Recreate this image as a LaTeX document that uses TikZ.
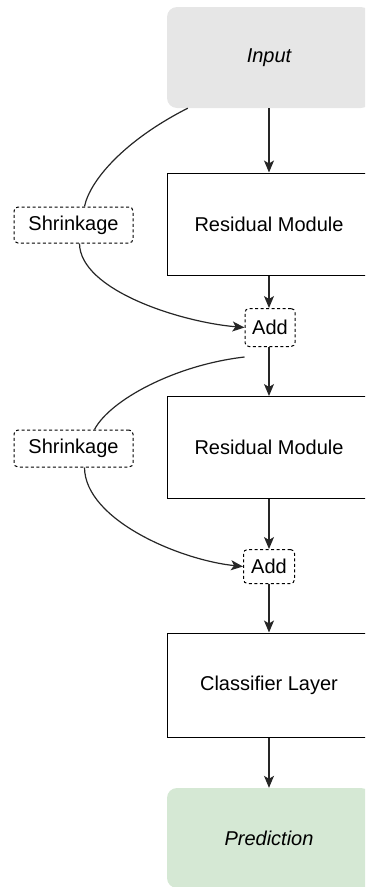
\documentclass[tikz,border=0pt]{standalone}
\usepackage{fontspec}
\setmainfont{Liberation Sans}
\usetikzlibrary{arrows.meta,calc}
\definecolor{ingray}{HTML}{E6E6E6}
\definecolor{outgreen}{HTML}{D5E8D4}
\begin{document}
\begin{tikzpicture}[x=1pt,y=-1pt,
  every node/.style={font=\fontsize{20}{23}\selectfont, inner sep=0pt},
  blk/.style={draw=black, line width=1pt, minimum width=204pt, minimum height=102pt},
  term/.style={rounded corners=10pt, minimum width=204pt, minimum height=101pt, font=\fontsize{20}{23}\selectfont\itshape},
  dbox/.style={draw=black, line width=1pt, dash pattern=on 3pt off 2.5pt, rounded corners=4pt},
  link/.style={draw=black!85, line width=1.2pt, -{Stealth[length=12pt,width=10pt,inset=3pt]}},
  curve/.style={draw=black!85, line width=1.2pt}
]
\useasboundingbox (0,0) rectangle (365,887);
\clip (0,0) rectangle (365,887);

% main column
\node[term, fill=ingray] (inp) at (269,57.5) {Input};
\node[blk] (rm1) at (269,224) {Residual Module};
\node[dbox, minimum width=50pt, minimum height=38pt] (add1) at (270,327.5) {Add};
\node[blk] (rm2) at (269,447.5) {Residual Module};
\node[dbox, minimum width=51pt, minimum height=34pt] (add2) at (269,566.5) {Add};
\node[blk, minimum height=104pt] (cls) at (269,685) {Classifier Layer};
\node[term, fill=outgreen, minimum height=100pt] (pred) at (269,838) {Prediction};

% shrinkage branches
\node[dbox, minimum width=119pt, minimum height=36pt] (sh1) at (73.5,225) {Shrinkage};
\node[dbox, minimum width=119pt, minimum height=37pt] (sh2) at (73.5,448.5) {Shrinkage};

% straight flow
\draw[link] (inp.south -| rm1.north) -- (rm1.north);
\draw[link] (rm1.south) -- (add1.north -| rm1.south);
\draw[link] (add1.south -| rm2.north) -- (rm2.north);
\draw[link] (rm2.south) -- (add2.north -| rm2.south);
\draw[link] (add2.south) -- (add2.south |- cls.north);
\draw[link] (cls.south) -- (pred.north);

% skip paths through the shrinkage blocks
\draw[curve] ([xshift=21pt]inp.south west) .. controls (125,140) and (90,180) .. ([xshift=11pt]sh1.north);
\draw[link] ([xshift=6pt]sh1.south) .. controls (80,290) and (180,322) .. (add1.west);
\draw[curve] ([yshift=-10pt]add1.south west) .. controls (175,365) and (110,400) .. ([xshift=21pt]sh2.north);
\draw[link] ([xshift=11pt]sh2.south) .. controls (85,520) and (180,560) .. (add2.west);
\end{tikzpicture}
\end{document}
